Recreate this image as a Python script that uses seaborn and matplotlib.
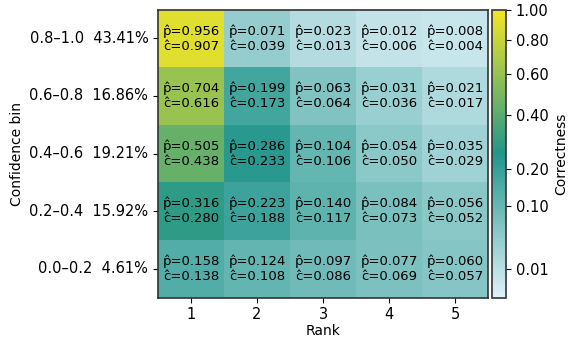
import numpy as np
import seaborn as sns
import matplotlib.pyplot as plt
from matplotlib.colors import LinearSegmentedColormap, PowerNorm

bins = ["0.8\u20131.0", "0.6\u20130.8", "0.4\u20130.6", "0.2\u20130.4", "0.0\u20130.2"]
bin_share = [43.41, 16.86, 19.21, 15.92, 4.61]
ranks = [1, 2, 3, 4, 5]

# predicted prob per cell
p_hat = [
    [0.956, 0.071, 0.023, 0.012, 0.008],
    [0.704, 0.199, 0.063, 0.031, 0.021],
    [0.505, 0.286, 0.104, 0.054, 0.035],
    [0.316, 0.223, 0.140, 0.084, 0.056],
    [0.158, 0.124, 0.097, 0.077, 0.060],
]
# observed correctness per cell
c_hat = [
    [0.907, 0.039, 0.013, 0.006, 0.004],
    [0.616, 0.173, 0.064, 0.036, 0.017],
    [0.438, 0.233, 0.106, 0.050, 0.029],
    [0.280, 0.188, 0.117, 0.073, 0.052],
    [0.138, 0.108, 0.086, 0.069, 0.057],
]
cbar_ticks = [0.01, 0.10, 0.20, 0.40, 0.60, 0.80, 1.00]

ylabels = [f"{b}  {s:.2f}%" for b, s in zip(bins, bin_share)]
annot = np.array([[f"p\u0302={p:.3f}\nc\u0302={c:.3f}" for p, c in zip(pr, cr)]
                  for pr, cr in zip(p_hat, c_hat)])

cmap = LinearSegmentedColormap.from_list(
    "corr", [(0.0, "#dff1f9"), (0.5, "#22968c"), (1.0, "#f4e524")])

fig = plt.figure(figsize=(5.68, 3.41), dpi=100)
ax = fig.add_axes([158 / 568, 43.5 / 341, 330 / 568, 288 / 341])
cax = fig.add_axes([492 / 568, 43.5 / 341, 14 / 568, 288 / 341])

sns.heatmap(np.array(c_hat), ax=ax, cbar_ax=cax, cmap=cmap,
            norm=PowerNorm(0.5, vmin=0, vmax=1),
            annot=annot, fmt="", annot_kws={"color": "black", "fontsize": 9.5},
            xticklabels=ranks, yticklabels=ylabels,
            cbar_kws={"ticks": cbar_ticks, "format": "%.2f"})

for sp in ax.spines.values():
    sp.set_visible(True)
    sp.set_color("#333333")
    sp.set_linewidth(1.2)
ax.tick_params(labelsize=10.5)
ax.set_yticklabels(ylabels, rotation=0)
ax.set_xlabel("Rank", fontsize=10, labelpad=1)
ax.set_ylabel("Confidence bin", fontsize=10)

cb = ax.collections[0].colorbar
cb.outline.set_edgecolor("#333333")
cb.outline.set_linewidth(1.2)
cb.ax.tick_params(labelsize=10.5)
cb.set_label("Correctness", fontsize=10)

fig.savefig("out.png", dpi=100)
